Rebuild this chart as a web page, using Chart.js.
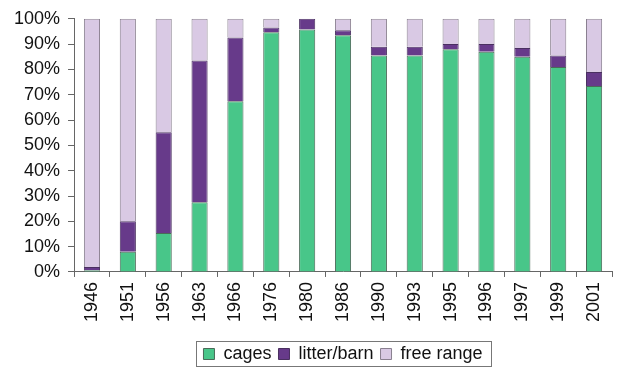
<!DOCTYPE html>
<html>
<head>
<meta charset="utf-8">
<script src="https://cdn.jsdelivr.net/npm/chart.js@4.4.1/dist/chart.umd.min.js"></script>
<style>
  html, body { margin: 0; padding: 0; background: #fff; }
  #wrap { width: 622px; height: 367px; }
</style>
</head>
<body>
<div id="wrap"><canvas id="eggChart"></canvas></div>
<script>
// --- data (percent of hens) ---
const years = ['1946', '1951', '1956', '1963', '1966', '1976', '1980', '1986', '1990', '1993', '1995', '1996', '1997', '1999', '2001'];
const cages = [0.7, 8, 15.4, 27.5, 67.4, 94.7, 95.8, 93.5, 85.5, 85.5, 88, 87, 85, 81, 73.5];
const litterBarn = [1.3, 12, 39.8, 56, 25.2, 1.9, 4.2, 2, 3.5, 3.5, 2, 3, 3.5, 4.5, 5.5];
const freeRange = [98, 80, 44.8, 16.5, 7.4, 3.4, 0, 4.5, 11, 11, 10, 10, 11.5, 14.5, 21];
const yTicks = [0, 10, 20, 30, 40, 50, 60, 70, 80, 90, 100];

const fontFam = "'Liberation Sans', Arial, Helvetica, sans-serif";

// centre the legend under the plot, nudge it down and frame it
const legendFrame = {
    id: 'legendFrame',
    afterLayout(chart) {
        const lg = chart.legend;
        const ca = chart.chartArea;
        const dx = (ca.left + ca.right) / 2 - (lg.left + lg.right) / 2;
        const dy = 7;
        lg.left += dx; lg.right += dx;
        lg.top += dy; lg.bottom += dy;
    },
    afterDraw(chart) {
        const boxes = chart.legend.legendHitBoxes;
        if (!boxes.length) return;
        const l = Math.min(...boxes.map(b => b.left));
        const r = Math.max(...boxes.map(b => b.left + b.width));
        const mid = boxes[0].top + boxes[0].height / 2;
        const ctx = chart.ctx;
        ctx.save();
        ctx.strokeStyle = '#777';
        ctx.lineWidth = 1;
        ctx.strokeRect(Math.round(l - 7) + 0.5, Math.round(mid - 13) + 0.5, Math.round(r - l + 16), 25);
        ctx.restore();
    }
};

new Chart(document.getElementById('eggChart').getContext('2d'), {
    type: 'bar',
    data: {
        labels: years,
        datasets: [
            { label: 'cages', data: cages, backgroundColor: '#48c689', borderColor: '#4a6a58', borderWidth: 1 },
            { label: 'litter/barn', data: litterBarn, backgroundColor: '#673a8a', borderColor: '#4a3060', borderWidth: 1 },
            { label: 'free range', data: freeRange, backgroundColor: '#d9c9e4', borderColor: '#8a8090', borderWidth: 1 }
        ]
    },
    options: {
        responsive: true,
        maintainAspectRatio: false,
        animation: false,
        layout: { padding: { left: 6, right: 10, top: 15, bottom: 1 } },
        datasets: { bar: { categoryPercentage: 0.45, barPercentage: 1 } },
        plugins: {
            legend: {
                position: 'bottom',
                labels: {
                    boxWidth: 11,
                    boxHeight: 11,
                    padding: 7,
                    color: '#111',
                    font: { family: fontFam, size: 18 }
                }
            },
            tooltip: { enabled: false }
        },
        scales: {
            x: {
                stacked: true,
                grid: { display: true, drawOnChartArea: false, drawTicks: true, tickLength: 5, color: '#666', offset: true },
                border: { color: '#666' },
                afterFit(axis) { axis.height += 4; },
                ticks: {
                    minRotation: 90, maxRotation: 90,
                    autoSkip: false,
                    padding: 5,
                    color: '#111',
                    font: { family: fontFam, size: 18 }
                }
            },
            y: {
                stacked: true,
                min: 0,
                max: 100,
                afterBuildTicks(axis) { axis.ticks = yTicks.map(v => ({ value: v })); },
                grid: { display: true, drawOnChartArea: false, drawTicks: true, tickLength: 6, color: '#666' },
                border: { color: '#666' },
                ticks: {
                    padding: 8,
                    color: '#111',
                    font: { family: fontFam, size: 18 },
                    callback: v => v + '%'
                }
            }
        }
    },
    plugins: [legendFrame]
});
</script>
</body>
</html>
